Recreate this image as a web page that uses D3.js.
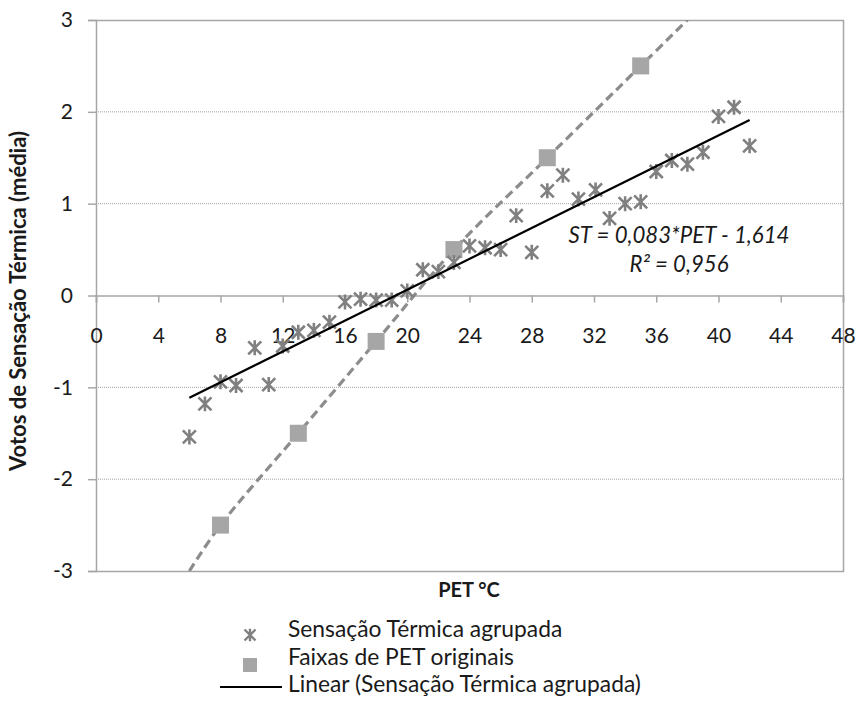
<!DOCTYPE html>
<html><head><meta charset="utf-8">
<script src="https://cdn.jsdelivr.net/npm/d3@7/dist/d3.min.js"></script>
<style>
html,body{margin:0;padding:0;background:#fff;}
text{font-family:Lato,"Open Sans",sans-serif;fill:#1a1a1a;}
</style></head>
<body>
<svg id="c" width="856" height="705"></svg>
<script>
// ---- data ----
const starPET = [6,7,8,9,10.2,11.1,12,13,14,15,16,17,18,19,20,21,22,23,24,25,26,27,28,29,30,31,32.1,33,34,35,36,37,38,39,40,41,42];
const starST  = [-1.54,-1.18,-0.94,-0.98,-0.57,-0.97,-0.55,-0.40,-0.38,-0.29,-0.07,-0.04,-0.05,-0.05,0.05,0.28,0.26,0.36,0.54,0.52,0.50,0.87,0.47,1.14,1.31,1.05,1.15,0.84,1.00,1.02,1.35,1.47,1.43,1.56,1.95,2.05,1.63];
const faixaPET = [8,13,18,23,29,35];
const faixaST  = [-2.5,-1.5,-0.5,0.5,1.5,2.5];
const dashPET = [6,8,13,18,23,29,35,38];
const dashST  = [-3,-2.5,-1.5,-0.5,0.5,1.5,2.5,3];
const xTicks = [0,4,8,12,16,20,24,28,32,36,40,44,48];
const yTicks = [-3,-2,-1,0,1,2,3];
const yGrid = [-2,-1,1,2];
const legendLabels = ["Sensação Térmica agrupada","Faixas de PET originais","Linear (Sensação Térmica agrupada)"];
const eqLines = ["ST = 0,083*PET - 1,614","R² = 0,956"];
const xTitle = "PET °C";
const yTitle = "Votos de Sensação Térmica (média)";

// ---- layout ----
const L=96, R=843, T=20, B=571;
const svg = d3.select("#c");
const x = d3.scaleLinear().domain([0,48]).range([L,R]);
const y = d3.scaleLinear().domain([-3,3]).range([B,T]);
const axisCol = "#a6a6a6";
const fmt = d => String(d);

// gridlines
svg.append("g").selectAll("line").data(yGrid).join("line")
  .attr("x1",L).attr("x2",R).attr("y1",d=>y(d)).attr("y2",d=>y(d))
  .attr("stroke","#a0a0a0").attr("stroke-width",1).attr("stroke-dasharray","1,1");

// plot border (top,right,bottom)
svg.append("path").attr("d",`M${L},${T+0.5}H${R+0.5}V${B+0.5}H${L}`)
  .attr("fill","none").attr("stroke",axisCol).attr("stroke-width",1.5);

// y axis
const yAx = svg.append("g").attr("transform",`translate(${L},0)`)
  .call(d3.axisLeft(y).tickValues(yTicks).tickSize(8).tickPadding(15).tickFormat(fmt));
yAx.select(".domain").attr("stroke",axisCol).attr("stroke-width",1.5);
yAx.selectAll(".tick line").attr("stroke",axisCol).attr("stroke-width",1.5);
yAx.selectAll(".tick text").attr("font-size",21).attr("font-family","Lato").attr("fill","#1a1a1a");

// x axis at y=0
const xAx = svg.append("g").attr("transform",`translate(0,${y(0)})`)
  .call(d3.axisBottom(x).tickValues(xTicks).tickSize(7).tickPadding(0).tickFormat(fmt));
xAx.select(".domain").attr("stroke",axisCol).attr("stroke-width",1.5);
xAx.selectAll(".tick line").attr("stroke",axisCol).attr("stroke-width",1.5);
xAx.selectAll(".tick text").attr("font-size",21).attr("font-family","Lato").attr("fill","#1a1a1a")
  .attr("dy",null).attr("y",47);

// clip
svg.append("clipPath").attr("id","clip").append("rect").attr("x",L).attr("y",T).attr("width",R-L).attr("height",B-T);

// dashed smooth line
const dashData = dashPET.map((d,i)=>[d,dashST[i]]);
svg.append("path").attr("clip-path","url(#clip)")
  .attr("d", d3.line().x(d=>x(d[0])).y(d=>y(d[1])).curve(d3.curveCatmullRom.alpha(0.5))(dashData))
  .attr("fill","none").attr("stroke","#8c8c8c").attr("stroke-width",3.2).attr("stroke-dasharray","9,5");

// squares
const sq = 17;
svg.append("g").selectAll("rect").data(faixaPET.map((d,i)=>[d,faixaST[i]])).join("rect")
  .attr("x",d=>x(d[0])-sq/2).attr("y",d=>y(d[1])-sq/2).attr("width",sq).attr("height",sq)
  .attr("fill","#a6a6a6");

// stars
function starPath(s){ return `M${-s},${-s}L${s},${s}M${-s},${s}L${s},${-s}M0,${-s*1.15}L0,${s*1.15}`; }
const starData = starPET.map((d,i)=>[d,starST[i]]);
svg.append("g").selectAll("path").data(starData).join("path")
  .attr("transform",d=>`translate(${x(d[0])},${y(d[1])})`)
  .attr("d",starPath(6.5)).attr("fill","none").attr("stroke","#808080").attr("stroke-width",2.6);

// linear trend (least squares)
const mx = d3.mean(starData,d=>d[0]), my = d3.mean(starData,d=>d[1]);
const slope = d3.sum(starData,d=>(d[0]-mx)*(d[1]-my))/d3.sum(starData,d=>(d[0]-mx)**2);
const icpt = my - slope*mx;
const xr = d3.extent(starPET);
svg.append("line").attr("x1",x(xr[0])).attr("x2",x(xr[1]))
  .attr("y1",y(slope*xr[0]+icpt)).attr("y2",y(slope*xr[1]+icpt))
  .attr("stroke","#000").attr("stroke-width",2.2);

// equation
svg.append("g").selectAll("text").data(eqLines).join("text")
  .attr("x",679).attr("y",(d,i)=>243+i*29).attr("text-anchor","middle")
  .attr("font-style","italic").attr("font-size",22.2).attr("fill","#262626").text(d=>d);

// titles
svg.append("text").attr("x",469).attr("y",597).attr("text-anchor","middle")
  .attr("font-weight","bold").attr("font-size",20).text(xTitle);
svg.append("text").attr("transform","translate(26,301) rotate(-90)").attr("text-anchor","middle")
  .attr("font-weight","bold").attr("font-size",22).text(yTitle);

// legend
const lg = svg.append("g");
const rowsY = [637,665,692];
lg.selectAll("text").data(legendLabels).join("text")
  .attr("x",288).attr("y",(d,i)=>rowsY[i]).attr("font-size",22.8).attr("fill","#1a1a1a").text(d=>d);
lg.append("path").attr("transform","translate(250,635)").attr("d",starPath(5.5))
  .attr("fill","none").attr("stroke","#808080").attr("stroke-width",2.4);
lg.append("rect").attr("x",243).attr("y",658).attr("width",14).attr("height",14).attr("fill","#a6a6a6");
lg.append("line").attr("x1",220).attr("x2",282).attr("y1",687).attr("y2",687).attr("stroke","#000").attr("stroke-width",2.2);
</script>
</body></html>
